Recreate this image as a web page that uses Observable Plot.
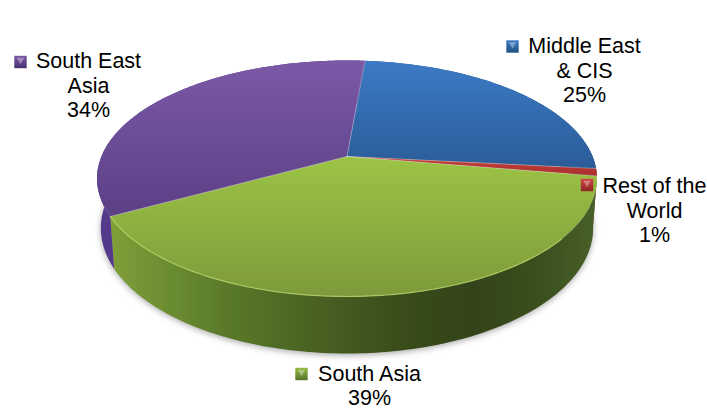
<!DOCTYPE html>
<html>
<head>
<meta charset="utf-8">
<script src="https://cdn.jsdelivr.net/npm/d3@7"></script>
<script src="https://cdn.jsdelivr.net/npm/@observablehq/plot@0.6"></script>
<style>
  html, body { margin: 0; padding: 0; background: #fff; }
  svg { display: block; }
  .pie-shadow { filter: blur(3px); }
</style>
</head>
<body>
<div id="chart"></div>
<script>
// Revenue share by region, drawn as a tilted pie with a visible rim.
const regions = ["Middle East\n& CIS", "Rest of the\nWorld", "South Asia", "South East\nAsia"];
const shares = [25, 1, 39, 34];
const slugs = ["blue", "red", "green", "purple"];

const topStops = {
  blue: ["#3b7ac6", "#2b5c98"],
  red: ["#c8403c", "#a82f2d"],
  green: ["#9cc345", "#7c9a3b"],
  purple: ["#7b59a7", "#5b4086"]
};
const sideStops = {
  blue: ["#2b5c98", "#1e406c"],
  red: ["#93302c", "#6e2220"],
  green: ["#7f9f39", "#6a8c31", "#587829", "#4c6824", "#43581f", "#374a18", "#33441a", "#3a4f1c", "#48602a"],
  purple: ["#553a8c", "#4a3278"]
};
const keyStops = {
  blue: ["#3d7cc8", "#23507f"],
  red: ["#cf4440", "#8c2624"],
  green: ["#93ba3f", "#56752a"],
  purple: ["#7b59a7", "#46306e"]
};

// Rotation of the first slice, and the camera that tilts the disc.
const firstSliceAngle = 5;
const tilt = 0.1864, recede = 0.015, drop = 0.433;

const project = (deg, radius, depth) => {
  const a = deg * Math.PI / 180;
  const px = radius * Math.sin(a), py = -radius * Math.cos(a);
  const w = 1 - tilt * py + recede * depth;
  return {x: px / w, y: (py + drop * depth) / w};
};
const arc = (from, to, depth) => {
  const n = Math.max(2, Math.ceil(Math.abs(to - from)));
  return d3.range(n + 1).map((i) => project(from + (to - from) * i / n, 1, depth));
};

const total = d3.sum(shares);
let cursor = firstSliceAngle;
const slices = shares.map((share, i) => {
  const start = cursor;
  cursor += share / total * 360;
  return {slug: slugs[i], start, end: cursor};
});

const topFace = (s) => [project(0, 0, 0), ...arc(s.start, s.end, 0)];
const sideFace = (s) => [...arc(s.start, s.end, 0), ...arc(s.end, s.start, 1)];
const spoke = (deg) => [project(0, 0, 0), project(deg, 1, 0)];
const polygon = (points, fill, extra = {}) =>
  Plot.line(points, {x: "x", y: "y", curve: "linear-closed", fill, stroke: "none", ...extra});

// Gradients for the faces and legend keys.
const gradient = (defs, id, stops, horizontal) => {
  const g = defs.append("linearGradient").attr("id", id)
    .attr("x1", 0).attr("y1", 0)
    .attr("x2", horizontal ? 1 : 0).attr("y2", horizontal ? 0 : 1);
  stops.forEach((c, i) => g.append("stop")
    .attr("offset", i / (stops.length - 1)).attr("stop-color", c));
};
const gradients = () => {
  const defs = d3.create("svg:defs");
  slugs.forEach((s) => {
    gradient(defs, `top-${s}`, topStops[s], false);
    gradient(defs, `side-${s}`, sideStops[s], true);
    gradient(defs, `key-${s}`, keyStops[s], false);
  });
  return defs.node();
};

// Legend keys and their labels, placed by offsets from the frame corner.
const labelPlacement = {
  blue: {key: [512, 46], text: [584, 35.5]},
  red: {key: [586.5, 184.5], text: [654, 175.5]},
  green: {key: [301, 373.5], text: [369, 363]},
  purple: {key: [20, 61.5], text: [88, 50.5]}
};
const legendMarks = slices.flatMap((s, i) => {
  const {key, text} = labelPlacement[s.slug];
  const corner = {frameAnchor: "top-left"};
  return [
    Plot.dot([s.slug], {...corner, dx: key[0], dy: key[1], symbol: "square", r: 7, fill: `url(#key-${s.slug})`, stroke: "none"}),
    Plot.dot([s.slug], {...corner, dx: key[0], dy: key[1] - 2, symbol: "triangle", rotate: 180, r: 2.8, fill: "#fff", fillOpacity: 0.35, stroke: "none"}),
    Plot.text([`${regions[i]}\n${shares[i]}%`], {
      ...corner, text: (d) => d, dx: text[0], dy: text[1],
      textAnchor: "middle", lineAnchor: "top", lineHeight: 1.14,
      fontFamily: "Liberation Sans", fontSize: 21.5, fill: "#000"
    })
  ];
});

const frontSlice = slices.find((s) => s.slug === "green");

const chart = Plot.plot({
  width: 707,
  height: 409,
  margin: 0,
  style: {background: "#fff", overflow: "visible"},
  x: {domain: [-1.4108, 1.4678], range: [0, 707], axis: null},
  y: {domain: [-1.3696, 2.2212], range: [0, 409], axis: null},
  marks: [
    gradients,
    polygon(arc(0, 360, 1.03), "#8a8a8a", {className: "pie-shadow", fillOpacity: 0.75}),
    ...slices.map((s) => polygon(sideFace(s), `url(#side-${s.slug})`)),
    ...slices.map((s) => polygon(topFace(s), `url(#top-${s.slug})`)),
    Plot.line(arc(frontSlice.start + 30, frontSlice.end, 0), {x: "x", y: "y", stroke: "#b6d668", strokeWidth: 1.2, strokeOpacity: 0.8}),
    ...slices.map((s) => Plot.line(spoke(s.start), {x: "x", y: "y", stroke: "#fff", strokeWidth: 0.8, strokeOpacity: 0.4})),
    ...legendMarks
  ]
});
document.getElementById("chart").append(chart);
</script>
</body>
</html>
